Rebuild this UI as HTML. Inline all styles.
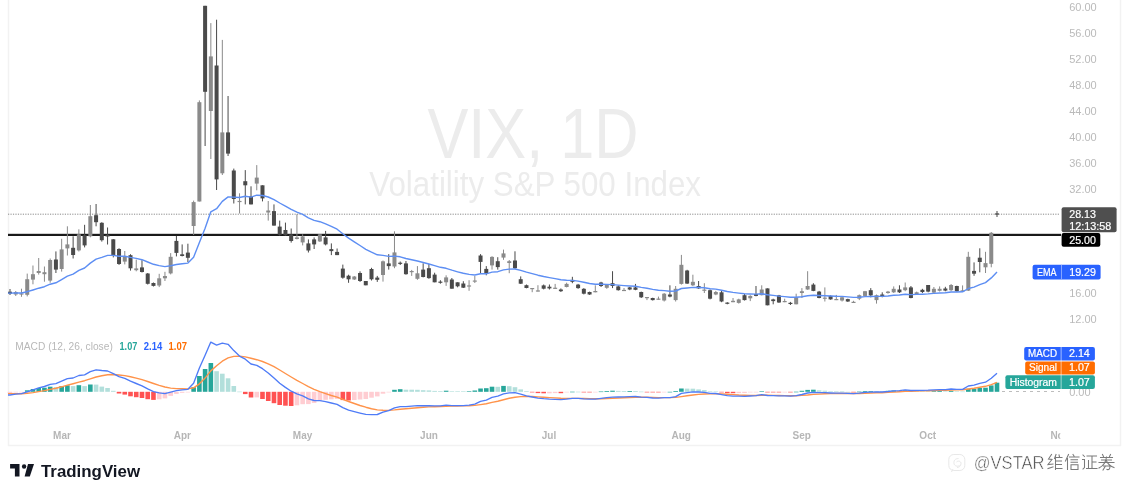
<!DOCTYPE html>
<html><head><meta charset="utf-8"><style>
html,body{margin:0;padding:0;background:#fff;width:1129px;height:496px;overflow:hidden}
svg{display:block;filter:blur(0.35px)}
text{font-family:"Liberation Sans",sans-serif}
.ax{font-size:11px;fill:#bababa}
.mo{font-size:10px;fill:#b6b6b6;font-weight:bold}
.lb{font-size:10.5px;fill:#fff;stroke:#fff;stroke-width:0.2px}
.lb2{font-size:10px;fill:#fff;stroke:#fff;stroke-width:0.2px}
</style></head><body>
<svg width="1129" height="496" viewBox="0 0 1129 496">
<rect width="1129" height="496" fill="#fff"/>
<!-- border -->
<path d="M8.5 0 V445.5 H1120.5 V0" fill="none" stroke="#f2f2f2" stroke-width="1.5"/>
<!-- watermark title -->
<text x="427.5" y="157.5" font-size="70" fill="#ececec" textLength="211" lengthAdjust="spacingAndGlyphs">VIX, 1D</text>
<text x="369.3" y="196" font-size="34.5" fill="#ececec" textLength="331.7" lengthAdjust="spacingAndGlyphs">Volatility S&amp;P 500 Index</text>
<text x="1069.2" y="11.2" class="ax">60.00</text>
<text x="1069.2" y="37.2" class="ax">56.00</text>
<text x="1069.2" y="63.2" class="ax">52.00</text>
<text x="1069.2" y="89.2" class="ax">48.00</text>
<text x="1069.2" y="115.2" class="ax">44.00</text>
<text x="1069.2" y="141.2" class="ax">40.00</text>
<text x="1069.2" y="167.2" class="ax">36.00</text>
<text x="1069.2" y="193.2" class="ax">32.00</text>
<text x="1069.2" y="297.2" class="ax">16.00</text>
<text x="1069.2" y="323.2" class="ax">12.00</text>
<!-- dotted price line -->
<line x1="8" y1="214.2" x2="1060" y2="214.2" stroke="#8a8a8a" stroke-width="1" stroke-dasharray="1.2,1.27"/>
<!-- horizontal 25 line -->
<rect x="8" y="233.8" width="1053" height="2.2" fill="#1a1a1a"/>
<rect x="9.50" y="289.0" width="1" height="6.0" fill="#4a4a4a"/>
<rect x="8.00" y="291.7" width="4" height="2.0" fill="#4a4a4a"/>
<rect x="15.24" y="291.0" width="1" height="5.0" fill="#8a8a8a"/>
<rect x="13.74" y="292.0" width="4" height="2.5" fill="#8a8a8a"/>
<rect x="20.98" y="288.7" width="1" height="8.1" fill="#8a8a8a"/>
<rect x="19.48" y="293.4" width="4" height="1.2" fill="#8a8a8a"/>
<rect x="26.72" y="273.6" width="1" height="22.8" fill="#8a8a8a"/>
<rect x="25.22" y="279.2" width="4" height="15.6" fill="#8a8a8a"/>
<rect x="32.45" y="265.5" width="1" height="18.8" fill="#8a8a8a"/>
<rect x="30.95" y="274.2" width="4" height="5.4" fill="#8a8a8a"/>
<rect x="38.19" y="258.0" width="1" height="16.6" fill="#8a8a8a"/>
<rect x="36.69" y="271.0" width="4" height="2.0" fill="#8a8a8a"/>
<rect x="43.93" y="266.5" width="1" height="15.2" fill="#8a8a8a"/>
<rect x="42.43" y="272.2" width="4" height="2.0" fill="#8a8a8a"/>
<rect x="49.67" y="258.5" width="1" height="24.2" fill="#8a8a8a"/>
<rect x="48.17" y="260.0" width="4" height="20.6" fill="#8a8a8a"/>
<rect x="55.41" y="251.4" width="1" height="21.6" fill="#4a4a4a"/>
<rect x="53.91" y="259.5" width="4" height="10.1" fill="#4a4a4a"/>
<rect x="61.15" y="238.8" width="1" height="32.8" fill="#8a8a8a"/>
<rect x="59.65" y="249.4" width="4" height="19.6" fill="#8a8a8a"/>
<rect x="66.88" y="226.3" width="1" height="29.2" fill="#8a8a8a"/>
<rect x="65.38" y="244.4" width="4" height="4.0" fill="#8a8a8a"/>
<rect x="72.62" y="236.3" width="1" height="22.2" fill="#4a4a4a"/>
<rect x="71.12" y="247.8" width="4" height="7.2" fill="#4a4a4a"/>
<rect x="78.36" y="229.3" width="1" height="22.2" fill="#8a8a8a"/>
<rect x="76.86" y="234.3" width="4" height="16.1" fill="#8a8a8a"/>
<rect x="84.10" y="224.8" width="1" height="22.6" fill="#4a4a4a"/>
<rect x="82.60" y="235.3" width="4" height="10.1" fill="#4a4a4a"/>
<rect x="89.84" y="205.0" width="1" height="32.3" fill="#8a8a8a"/>
<rect x="88.34" y="216.2" width="4" height="20.1" fill="#8a8a8a"/>
<rect x="95.58" y="204.0" width="1" height="22.3" fill="#4a4a4a"/>
<rect x="94.08" y="215.2" width="4" height="7.0" fill="#4a4a4a"/>
<rect x="101.31" y="222.2" width="1" height="19.4" fill="#4a4a4a"/>
<rect x="99.81" y="222.8" width="4" height="17.4" fill="#4a4a4a"/>
<rect x="107.05" y="227.5" width="1" height="17.0" fill="#4a4a4a"/>
<rect x="105.55" y="234.8" width="4" height="1.7" fill="#4a4a4a"/>
<rect x="112.79" y="239.0" width="1" height="18.4" fill="#4a4a4a"/>
<rect x="111.29" y="239.3" width="4" height="16.4" fill="#4a4a4a"/>
<rect x="118.53" y="248.2" width="1" height="16.7" fill="#4a4a4a"/>
<rect x="117.03" y="249.0" width="4" height="15.0" fill="#4a4a4a"/>
<rect x="124.27" y="251.0" width="1" height="13.4" fill="#8a8a8a"/>
<rect x="122.77" y="256.0" width="4" height="5.6" fill="#8a8a8a"/>
<rect x="130.01" y="254.2" width="1" height="16.4" fill="#4a4a4a"/>
<rect x="128.51" y="255.2" width="4" height="13.1" fill="#4a4a4a"/>
<rect x="135.74" y="259.6" width="1" height="11.7" fill="#8a8a8a"/>
<rect x="134.24" y="268.4" width="4" height="1.8" fill="#8a8a8a"/>
<rect x="141.48" y="260.2" width="1" height="12.3" fill="#4a4a4a"/>
<rect x="139.98" y="267.4" width="4" height="4.6" fill="#4a4a4a"/>
<rect x="147.22" y="273.0" width="1" height="11.5" fill="#4a4a4a"/>
<rect x="145.72" y="273.5" width="4" height="10.3" fill="#4a4a4a"/>
<rect x="152.96" y="282.5" width="1" height="4.0" fill="#4a4a4a"/>
<rect x="151.46" y="283.0" width="4" height="2.9" fill="#4a4a4a"/>
<rect x="158.70" y="273.8" width="1" height="13.3" fill="#8a8a8a"/>
<rect x="157.20" y="278.3" width="4" height="7.2" fill="#8a8a8a"/>
<rect x="164.44" y="271.8" width="1" height="9.2" fill="#8a8a8a"/>
<rect x="162.94" y="276.0" width="4" height="2.3" fill="#8a8a8a"/>
<rect x="170.17" y="253.1" width="1" height="21.3" fill="#8a8a8a"/>
<rect x="168.67" y="256.8" width="4" height="16.6" fill="#8a8a8a"/>
<rect x="175.91" y="235.9" width="1" height="20.5" fill="#4a4a4a"/>
<rect x="174.41" y="240.9" width="4" height="12.0" fill="#4a4a4a"/>
<rect x="181.65" y="244.4" width="1" height="12.0" fill="#4a4a4a"/>
<rect x="180.15" y="254.3" width="4" height="1.7" fill="#4a4a4a"/>
<rect x="187.39" y="243.7" width="1" height="18.3" fill="#4a4a4a"/>
<rect x="185.89" y="252.6" width="4" height="5.2" fill="#4a4a4a"/>
<rect x="193.13" y="200.6" width="1" height="34.4" fill="#8a8a8a"/>
<rect x="191.63" y="202.1" width="4" height="23.9" fill="#8a8a8a"/>
<rect x="198.87" y="100.4" width="1" height="101.1" fill="#8a8a8a"/>
<rect x="197.37" y="102.2" width="4" height="99.3" fill="#8a8a8a"/>
<rect x="204.60" y="5.8" width="1" height="140.2" fill="#4a4a4a"/>
<rect x="203.10" y="5.8" width="4" height="86.0" fill="#4a4a4a"/>
<rect x="210.34" y="23.1" width="1" height="135.9" fill="#8a8a8a"/>
<rect x="208.84" y="56.4" width="4" height="54.6" fill="#8a8a8a"/>
<rect x="216.08" y="19.7" width="1" height="170.3" fill="#4a4a4a"/>
<rect x="214.58" y="65.5" width="4" height="113.9" fill="#4a4a4a"/>
<rect x="221.82" y="39.9" width="1" height="135.1" fill="#8a8a8a"/>
<rect x="220.32" y="132.4" width="4" height="40.9" fill="#8a8a8a"/>
<rect x="227.56" y="96.0" width="1" height="60.0" fill="#4a4a4a"/>
<rect x="226.06" y="132.4" width="4" height="21.2" fill="#4a4a4a"/>
<rect x="233.30" y="168.6" width="1" height="34.9" fill="#4a4a4a"/>
<rect x="231.80" y="170.5" width="4" height="28.5" fill="#4a4a4a"/>
<rect x="239.03" y="193.3" width="1" height="20.2" fill="#8a8a8a"/>
<rect x="237.53" y="200.9" width="4" height="1.2" fill="#8a8a8a"/>
<rect x="244.77" y="170.1" width="1" height="34.3" fill="#4a4a4a"/>
<rect x="243.27" y="181.2" width="4" height="4.1" fill="#4a4a4a"/>
<rect x="250.51" y="186.3" width="1" height="18.1" fill="#4a4a4a"/>
<rect x="249.01" y="196.4" width="4" height="8.0" fill="#4a4a4a"/>
<rect x="256.25" y="165.1" width="1" height="25.2" fill="#8a8a8a"/>
<rect x="254.75" y="177.6" width="4" height="6.0" fill="#8a8a8a"/>
<rect x="261.99" y="185.3" width="1" height="16.1" fill="#4a4a4a"/>
<rect x="260.49" y="185.3" width="4" height="13.1" fill="#4a4a4a"/>
<rect x="267.73" y="201.0" width="1" height="19.6" fill="#8a8a8a"/>
<rect x="266.23" y="210.5" width="4" height="2.0" fill="#8a8a8a"/>
<rect x="273.47" y="204.4" width="1" height="21.2" fill="#4a4a4a"/>
<rect x="271.97" y="211.1" width="4" height="14.5" fill="#4a4a4a"/>
<rect x="279.20" y="220.6" width="1" height="15.1" fill="#4a4a4a"/>
<rect x="277.70" y="226.6" width="4" height="8.1" fill="#4a4a4a"/>
<rect x="284.94" y="222.6" width="1" height="13.1" fill="#4a4a4a"/>
<rect x="283.44" y="230.0" width="4" height="5.3" fill="#4a4a4a"/>
<rect x="290.68" y="228.5" width="1" height="14.1" fill="#4a4a4a"/>
<rect x="289.18" y="234.5" width="4" height="6.5" fill="#4a4a4a"/>
<rect x="296.42" y="214.2" width="1" height="25.2" fill="#8a8a8a"/>
<rect x="294.92" y="237.4" width="4" height="1.6" fill="#8a8a8a"/>
<rect x="302.16" y="234.3" width="1" height="11.1" fill="#8a8a8a"/>
<rect x="300.66" y="236.4" width="4" height="6.0" fill="#8a8a8a"/>
<rect x="307.90" y="239.4" width="1" height="13.1" fill="#4a4a4a"/>
<rect x="306.40" y="243.4" width="4" height="7.1" fill="#4a4a4a"/>
<rect x="313.63" y="237.4" width="1" height="11.6" fill="#4a4a4a"/>
<rect x="312.13" y="239.4" width="4" height="5.0" fill="#4a4a4a"/>
<rect x="319.37" y="234.3" width="1" height="7.7" fill="#8a8a8a"/>
<rect x="317.87" y="234.3" width="4" height="7.1" fill="#8a8a8a"/>
<rect x="325.11" y="230.9" width="1" height="14.5" fill="#4a4a4a"/>
<rect x="323.61" y="237.4" width="4" height="7.0" fill="#4a4a4a"/>
<rect x="330.85" y="243.4" width="1" height="11.7" fill="#4a4a4a"/>
<rect x="329.35" y="249.1" width="4" height="2.0" fill="#4a4a4a"/>
<rect x="336.59" y="248.5" width="1" height="6.6" fill="#4a4a4a"/>
<rect x="335.09" y="251.9" width="4" height="3.2" fill="#4a4a4a"/>
<rect x="342.33" y="264.6" width="1" height="14.1" fill="#4a4a4a"/>
<rect x="340.83" y="268.6" width="4" height="9.1" fill="#4a4a4a"/>
<rect x="348.06" y="274.7" width="1" height="8.1" fill="#4a4a4a"/>
<rect x="346.56" y="275.7" width="4" height="3.6" fill="#4a4a4a"/>
<rect x="353.80" y="276.0" width="1" height="4.0" fill="#8a8a8a"/>
<rect x="352.30" y="276.5" width="4" height="3.0" fill="#8a8a8a"/>
<rect x="359.54" y="271.3" width="1" height="10.6" fill="#4a4a4a"/>
<rect x="358.04" y="273.0" width="4" height="8.0" fill="#4a4a4a"/>
<rect x="365.28" y="281.0" width="1" height="4.3" fill="#4a4a4a"/>
<rect x="363.78" y="281.0" width="4" height="4.3" fill="#4a4a4a"/>
<rect x="371.02" y="267.8" width="1" height="12.7" fill="#4a4a4a"/>
<rect x="369.52" y="269.0" width="4" height="10.3" fill="#4a4a4a"/>
<rect x="376.76" y="275.9" width="1" height="6.0" fill="#4a4a4a"/>
<rect x="375.26" y="277.6" width="4" height="2.2" fill="#4a4a4a"/>
<rect x="382.49" y="260.5" width="1" height="21.1" fill="#8a8a8a"/>
<rect x="380.99" y="261.3" width="4" height="13.7" fill="#8a8a8a"/>
<rect x="388.23" y="254.1" width="1" height="15.5" fill="#4a4a4a"/>
<rect x="386.73" y="263.4" width="4" height="2.7" fill="#4a4a4a"/>
<rect x="393.97" y="231.3" width="1" height="36.9" fill="#8a8a8a"/>
<rect x="392.47" y="252.4" width="4" height="14.1" fill="#8a8a8a"/>
<rect x="399.71" y="261.5" width="1" height="3.5" fill="#4a4a4a"/>
<rect x="398.21" y="262.7" width="4" height="1.2" fill="#4a4a4a"/>
<rect x="405.45" y="261.0" width="1" height="13.7" fill="#4a4a4a"/>
<rect x="403.95" y="263.4" width="4" height="10.8" fill="#4a4a4a"/>
<rect x="411.19" y="269.9" width="1" height="6.0" fill="#8a8a8a"/>
<rect x="409.69" y="271.0" width="4" height="1.2" fill="#8a8a8a"/>
<rect x="416.92" y="266.1" width="1" height="13.7" fill="#8a8a8a"/>
<rect x="415.42" y="273.3" width="4" height="5.5" fill="#8a8a8a"/>
<rect x="422.66" y="263.3" width="1" height="14.1" fill="#4a4a4a"/>
<rect x="421.16" y="269.6" width="4" height="7.4" fill="#4a4a4a"/>
<rect x="428.40" y="264.0" width="1" height="14.8" fill="#4a4a4a"/>
<rect x="426.90" y="268.2" width="4" height="9.9" fill="#4a4a4a"/>
<rect x="434.14" y="272.7" width="1" height="9.6" fill="#4a4a4a"/>
<rect x="432.64" y="274.6" width="4" height="7.7" fill="#4a4a4a"/>
<rect x="439.88" y="280.2" width="1" height="3.5" fill="#4a4a4a"/>
<rect x="438.38" y="281.6" width="4" height="1.2" fill="#4a4a4a"/>
<rect x="445.62" y="275.3" width="1" height="10.6" fill="#8a8a8a"/>
<rect x="444.12" y="277.4" width="4" height="4.9" fill="#8a8a8a"/>
<rect x="451.35" y="278.0" width="1" height="10.7" fill="#4a4a4a"/>
<rect x="449.85" y="279.5" width="4" height="9.2" fill="#4a4a4a"/>
<rect x="457.09" y="282.3" width="1" height="5.0" fill="#4a4a4a"/>
<rect x="455.59" y="282.3" width="4" height="4.0" fill="#4a4a4a"/>
<rect x="462.83" y="281.2" width="1" height="6.8" fill="#4a4a4a"/>
<rect x="461.33" y="283.5" width="4" height="4.2" fill="#4a4a4a"/>
<rect x="468.57" y="280.2" width="1" height="10.6" fill="#8a8a8a"/>
<rect x="467.07" y="285.4" width="4" height="1.2" fill="#8a8a8a"/>
<rect x="474.31" y="276.0" width="1" height="7.0" fill="#8a8a8a"/>
<rect x="472.81" y="280.5" width="4" height="1.2" fill="#8a8a8a"/>
<rect x="480.05" y="254.1" width="1" height="19.8" fill="#4a4a4a"/>
<rect x="478.55" y="255.5" width="4" height="6.4" fill="#4a4a4a"/>
<rect x="485.78" y="266.1" width="1" height="9.2" fill="#4a4a4a"/>
<rect x="484.28" y="268.9" width="4" height="4.6" fill="#4a4a4a"/>
<rect x="491.52" y="256.2" width="1" height="13.4" fill="#8a8a8a"/>
<rect x="490.02" y="256.9" width="4" height="8.5" fill="#8a8a8a"/>
<rect x="497.26" y="257.2" width="1" height="12.4" fill="#4a4a4a"/>
<rect x="495.76" y="261.2" width="4" height="5.9" fill="#4a4a4a"/>
<rect x="503.00" y="249.6" width="1" height="10.2" fill="#8a8a8a"/>
<rect x="501.50" y="253.4" width="4" height="4.2" fill="#8a8a8a"/>
<rect x="508.74" y="260.0" width="1" height="13.2" fill="#8a8a8a"/>
<rect x="507.24" y="261.2" width="4" height="1.8" fill="#8a8a8a"/>
<rect x="514.48" y="251.3" width="1" height="17.6" fill="#4a4a4a"/>
<rect x="512.98" y="260.5" width="4" height="7.7" fill="#4a4a4a"/>
<rect x="520.22" y="276.4" width="1" height="7.6" fill="#4a4a4a"/>
<rect x="518.72" y="279.2" width="4" height="4.5" fill="#4a4a4a"/>
<rect x="525.95" y="284.5" width="1" height="3.8" fill="#4a4a4a"/>
<rect x="524.45" y="285.2" width="4" height="2.8" fill="#4a4a4a"/>
<rect x="531.69" y="288.2" width="1" height="4.0" fill="#8a8a8a"/>
<rect x="530.19" y="288.0" width="4" height="1.2" fill="#8a8a8a"/>
<rect x="537.43" y="285.2" width="1" height="6.3" fill="#8a8a8a"/>
<rect x="535.93" y="290.4" width="4" height="1.2" fill="#8a8a8a"/>
<rect x="543.17" y="284.5" width="1" height="4.9" fill="#4a4a4a"/>
<rect x="541.67" y="285.4" width="4" height="3.3" fill="#4a4a4a"/>
<rect x="548.91" y="284.5" width="1" height="5.0" fill="#4a4a4a"/>
<rect x="547.41" y="286.7" width="4" height="1.7" fill="#4a4a4a"/>
<rect x="554.65" y="283.9" width="1" height="4.9" fill="#8a8a8a"/>
<rect x="553.15" y="287.7" width="4" height="1.2" fill="#8a8a8a"/>
<rect x="560.38" y="288.4" width="1" height="3.6" fill="#4a4a4a"/>
<rect x="558.88" y="289.5" width="4" height="1.7" fill="#4a4a4a"/>
<rect x="566.12" y="282.7" width="1" height="4.7" fill="#8a8a8a"/>
<rect x="564.62" y="283.9" width="4" height="3.1" fill="#8a8a8a"/>
<rect x="571.86" y="276.8" width="1" height="6.4" fill="#4a4a4a"/>
<rect x="570.36" y="279.9" width="4" height="1.9" fill="#4a4a4a"/>
<rect x="577.60" y="283.9" width="1" height="4.9" fill="#4a4a4a"/>
<rect x="576.10" y="284.6" width="4" height="3.5" fill="#4a4a4a"/>
<rect x="583.34" y="288.1" width="1" height="6.3" fill="#4a4a4a"/>
<rect x="581.84" y="288.8" width="4" height="4.9" fill="#4a4a4a"/>
<rect x="589.08" y="291.6" width="1" height="3.3" fill="#4a4a4a"/>
<rect x="587.58" y="292.0" width="4" height="2.5" fill="#4a4a4a"/>
<rect x="594.81" y="285.3" width="1" height="7.0" fill="#8a8a8a"/>
<rect x="593.31" y="291.0" width="4" height="1.3" fill="#8a8a8a"/>
<rect x="600.55" y="281.8" width="1" height="5.2" fill="#4a4a4a"/>
<rect x="599.05" y="282.5" width="4" height="3.5" fill="#4a4a4a"/>
<rect x="606.29" y="284.6" width="1" height="4.2" fill="#8a8a8a"/>
<rect x="604.79" y="285.0" width="4" height="2.8" fill="#8a8a8a"/>
<rect x="612.03" y="271.2" width="1" height="16.9" fill="#4a4a4a"/>
<rect x="610.53" y="283.2" width="4" height="2.8" fill="#4a4a4a"/>
<rect x="617.77" y="285.3" width="1" height="5.3" fill="#4a4a4a"/>
<rect x="616.27" y="286.4" width="4" height="3.8" fill="#4a4a4a"/>
<rect x="623.51" y="288.0" width="1" height="2.9" fill="#8a8a8a"/>
<rect x="622.01" y="289.9" width="4" height="1.2" fill="#8a8a8a"/>
<rect x="629.24" y="287.0" width="1" height="3.2" fill="#4a4a4a"/>
<rect x="627.74" y="287.4" width="4" height="2.1" fill="#4a4a4a"/>
<rect x="634.98" y="283.9" width="1" height="6.3" fill="#4a4a4a"/>
<rect x="633.48" y="287.4" width="4" height="2.4" fill="#4a4a4a"/>
<rect x="640.72" y="291.6" width="1" height="6.4" fill="#4a4a4a"/>
<rect x="639.22" y="292.0" width="4" height="5.3" fill="#4a4a4a"/>
<rect x="646.46" y="297.3" width="1" height="2.8" fill="#8a8a8a"/>
<rect x="644.96" y="297.0" width="4" height="1.2" fill="#8a8a8a"/>
<rect x="652.20" y="297.7" width="1" height="2.8" fill="#4a4a4a"/>
<rect x="650.70" y="298.0" width="4" height="2.1" fill="#4a4a4a"/>
<rect x="657.94" y="296.6" width="1" height="3.1" fill="#8a8a8a"/>
<rect x="656.44" y="298.6" width="4" height="1.2" fill="#8a8a8a"/>
<rect x="663.67" y="293.0" width="1" height="8.5" fill="#8a8a8a"/>
<rect x="662.17" y="293.7" width="4" height="6.8" fill="#8a8a8a"/>
<rect x="669.41" y="285.3" width="1" height="12.0" fill="#4a4a4a"/>
<rect x="667.91" y="294.5" width="4" height="2.1" fill="#4a4a4a"/>
<rect x="675.15" y="286.0" width="1" height="15.5" fill="#8a8a8a"/>
<rect x="673.65" y="288.8" width="4" height="11.3" fill="#8a8a8a"/>
<rect x="680.89" y="254.9" width="1" height="29.7" fill="#8a8a8a"/>
<rect x="679.39" y="264.8" width="4" height="19.1" fill="#8a8a8a"/>
<rect x="686.63" y="269.8" width="1" height="14.1" fill="#4a4a4a"/>
<rect x="685.13" y="270.5" width="4" height="13.1" fill="#4a4a4a"/>
<rect x="692.37" y="274.7" width="1" height="11.3" fill="#8a8a8a"/>
<rect x="690.87" y="281.8" width="4" height="3.5" fill="#8a8a8a"/>
<rect x="698.10" y="281.0" width="1" height="7.8" fill="#4a4a4a"/>
<rect x="696.60" y="286.0" width="4" height="2.4" fill="#4a4a4a"/>
<rect x="703.84" y="283.2" width="1" height="9.8" fill="#8a8a8a"/>
<rect x="702.34" y="289.6" width="4" height="1.2" fill="#8a8a8a"/>
<rect x="709.58" y="289.5" width="1" height="9.9" fill="#4a4a4a"/>
<rect x="708.08" y="290.2" width="4" height="8.5" fill="#4a4a4a"/>
<rect x="715.32" y="290.9" width="1" height="4.3" fill="#8a8a8a"/>
<rect x="713.82" y="292.0" width="4" height="2.5" fill="#8a8a8a"/>
<rect x="721.06" y="290.2" width="1" height="12.0" fill="#4a4a4a"/>
<rect x="719.56" y="292.3" width="4" height="9.2" fill="#4a4a4a"/>
<rect x="726.80" y="302.2" width="1" height="2.1" fill="#4a4a4a"/>
<rect x="725.30" y="302.6" width="4" height="1.2" fill="#4a4a4a"/>
<rect x="732.53" y="298.0" width="1" height="4.2" fill="#8a8a8a"/>
<rect x="731.03" y="300.8" width="4" height="1.4" fill="#8a8a8a"/>
<rect x="738.27" y="298.7" width="1" height="4.9" fill="#8a8a8a"/>
<rect x="736.77" y="299.4" width="4" height="3.5" fill="#8a8a8a"/>
<rect x="744.01" y="294.0" width="1" height="6.5" fill="#4a4a4a"/>
<rect x="742.51" y="295.2" width="4" height="4.9" fill="#4a4a4a"/>
<rect x="749.75" y="295.2" width="1" height="5.9" fill="#8a8a8a"/>
<rect x="748.25" y="295.9" width="4" height="2.4" fill="#8a8a8a"/>
<rect x="755.49" y="286.0" width="1" height="10.3" fill="#4a4a4a"/>
<rect x="753.99" y="294.0" width="4" height="1.9" fill="#4a4a4a"/>
<rect x="761.23" y="285.3" width="1" height="10.1" fill="#8a8a8a"/>
<rect x="759.73" y="289.5" width="4" height="5.7" fill="#8a8a8a"/>
<rect x="766.97" y="288.4" width="1" height="16.9" fill="#4a4a4a"/>
<rect x="765.47" y="288.4" width="4" height="16.9" fill="#4a4a4a"/>
<rect x="772.70" y="298.7" width="1" height="5.6" fill="#4a4a4a"/>
<rect x="771.20" y="299.4" width="4" height="1.7" fill="#4a4a4a"/>
<rect x="778.44" y="294.9" width="1" height="8.0" fill="#4a4a4a"/>
<rect x="776.94" y="295.4" width="4" height="7.1" fill="#4a4a4a"/>
<rect x="784.18" y="298.7" width="1" height="3.5" fill="#8a8a8a"/>
<rect x="782.68" y="301.0" width="4" height="1.2" fill="#8a8a8a"/>
<rect x="789.92" y="301.9" width="1" height="3.1" fill="#4a4a4a"/>
<rect x="788.42" y="302.8" width="4" height="1.2" fill="#4a4a4a"/>
<rect x="795.66" y="293.7" width="1" height="10.6" fill="#8a8a8a"/>
<rect x="794.16" y="297.3" width="4" height="7.0" fill="#8a8a8a"/>
<rect x="801.40" y="288.1" width="1" height="9.9" fill="#8a8a8a"/>
<rect x="799.90" y="291.2" width="4" height="1.8" fill="#8a8a8a"/>
<rect x="807.13" y="271.2" width="1" height="18.6" fill="#8a8a8a"/>
<rect x="805.63" y="286.0" width="4" height="3.5" fill="#8a8a8a"/>
<rect x="812.87" y="283.2" width="1" height="8.0" fill="#4a4a4a"/>
<rect x="811.37" y="284.6" width="4" height="6.3" fill="#4a4a4a"/>
<rect x="818.61" y="290.9" width="1" height="7.4" fill="#4a4a4a"/>
<rect x="817.11" y="291.6" width="4" height="6.4" fill="#4a4a4a"/>
<rect x="824.35" y="287.4" width="1" height="14.1" fill="#8a8a8a"/>
<rect x="822.85" y="297.6" width="4" height="1.2" fill="#8a8a8a"/>
<rect x="830.09" y="295.4" width="1" height="4.3" fill="#4a4a4a"/>
<rect x="828.59" y="295.9" width="4" height="3.5" fill="#4a4a4a"/>
<rect x="835.83" y="294.9" width="1" height="5.2" fill="#8a8a8a"/>
<rect x="834.33" y="299.0" width="4" height="1.2" fill="#8a8a8a"/>
<rect x="841.56" y="296.3" width="1" height="5.2" fill="#8a8a8a"/>
<rect x="840.06" y="297.3" width="4" height="3.2" fill="#8a8a8a"/>
<rect x="847.30" y="298.7" width="1" height="3.2" fill="#4a4a4a"/>
<rect x="845.80" y="299.1" width="4" height="2.4" fill="#4a4a4a"/>
<rect x="853.04" y="300.8" width="1" height="2.1" fill="#8a8a8a"/>
<rect x="851.54" y="301.8" width="4" height="1.2" fill="#8a8a8a"/>
<rect x="858.78" y="294.5" width="1" height="5.6" fill="#8a8a8a"/>
<rect x="857.28" y="295.2" width="4" height="3.5" fill="#8a8a8a"/>
<rect x="864.52" y="290.9" width="1" height="5.4" fill="#8a8a8a"/>
<rect x="863.02" y="291.2" width="4" height="4.7" fill="#8a8a8a"/>
<rect x="870.26" y="288.1" width="1" height="9.2" fill="#4a4a4a"/>
<rect x="868.76" y="290.2" width="4" height="5.2" fill="#4a4a4a"/>
<rect x="875.99" y="294.5" width="1" height="9.1" fill="#8a8a8a"/>
<rect x="874.49" y="295.2" width="4" height="4.9" fill="#8a8a8a"/>
<rect x="881.73" y="292.3" width="1" height="5.0" fill="#4a4a4a"/>
<rect x="880.23" y="294.5" width="4" height="2.4" fill="#4a4a4a"/>
<rect x="887.47" y="290.9" width="1" height="2.8" fill="#8a8a8a"/>
<rect x="885.97" y="291.6" width="4" height="1.4" fill="#8a8a8a"/>
<rect x="893.21" y="286.4" width="1" height="6.6" fill="#8a8a8a"/>
<rect x="891.71" y="288.8" width="4" height="3.5" fill="#8a8a8a"/>
<rect x="898.95" y="285.3" width="1" height="7.7" fill="#4a4a4a"/>
<rect x="897.45" y="289.5" width="4" height="2.8" fill="#4a4a4a"/>
<rect x="904.69" y="282.5" width="1" height="8.7" fill="#8a8a8a"/>
<rect x="903.19" y="287.4" width="4" height="2.8" fill="#8a8a8a"/>
<rect x="910.42" y="286.0" width="1" height="12.3" fill="#4a4a4a"/>
<rect x="908.92" y="287.4" width="4" height="10.6" fill="#4a4a4a"/>
<rect x="916.16" y="291.6" width="1" height="2.9" fill="#8a8a8a"/>
<rect x="914.66" y="292.3" width="4" height="2.2" fill="#8a8a8a"/>
<rect x="921.90" y="288.8" width="1" height="4.2" fill="#4a4a4a"/>
<rect x="920.40" y="289.8" width="4" height="2.2" fill="#4a4a4a"/>
<rect x="927.64" y="285.0" width="1" height="7.3" fill="#4a4a4a"/>
<rect x="926.14" y="285.0" width="4" height="6.6" fill="#4a4a4a"/>
<rect x="933.38" y="287.0" width="1" height="6.0" fill="#8a8a8a"/>
<rect x="931.88" y="288.8" width="4" height="3.8" fill="#8a8a8a"/>
<rect x="939.12" y="286.4" width="1" height="5.1" fill="#8a8a8a"/>
<rect x="937.62" y="288.8" width="4" height="2.0" fill="#8a8a8a"/>
<rect x="944.85" y="286.8" width="1" height="4.5" fill="#4a4a4a"/>
<rect x="943.35" y="288.5" width="4" height="2.1" fill="#4a4a4a"/>
<rect x="950.59" y="284.0" width="1" height="7.3" fill="#8a8a8a"/>
<rect x="949.09" y="285.0" width="4" height="5.2" fill="#8a8a8a"/>
<rect x="956.33" y="285.7" width="1" height="5.9" fill="#4a4a4a"/>
<rect x="954.83" y="286.0" width="4" height="5.3" fill="#4a4a4a"/>
<rect x="962.07" y="285.4" width="1" height="5.9" fill="#8a8a8a"/>
<rect x="960.57" y="290.3" width="4" height="1.2" fill="#8a8a8a"/>
<rect x="967.81" y="251.8" width="1" height="39.2" fill="#8a8a8a"/>
<rect x="966.31" y="256.8" width="4" height="33.8" fill="#8a8a8a"/>
<rect x="973.55" y="262.4" width="1" height="13.4" fill="#4a4a4a"/>
<rect x="972.05" y="270.9" width="4" height="2.8" fill="#4a4a4a"/>
<rect x="979.28" y="248.3" width="1" height="24.0" fill="#4a4a4a"/>
<rect x="977.78" y="257.7" width="4" height="4.3" fill="#4a4a4a"/>
<rect x="985.02" y="251.8" width="1" height="21.2" fill="#8a8a8a"/>
<rect x="983.52" y="263.1" width="4" height="4.2" fill="#8a8a8a"/>
<rect x="990.76" y="232.0" width="1" height="35.3" fill="#8a8a8a"/>
<rect x="989.26" y="232.8" width="4" height="31.0" fill="#8a8a8a"/>
<rect x="996.50" y="211.0" width="1" height="6.0" fill="#4a4a4a"/>
<rect x="995.00" y="213.4" width="4" height="1.2" fill="#4a4a4a"/>
<polyline points="8,293.1 10.0,293.1 15.7,293.0 21.5,293.0 27.2,291.7 33.0,290.0 38.7,288.2 44.4,286.7 50.2,284.2 55.9,282.8 61.6,279.6 67.4,276.2 73.1,274.2 78.9,270.4 84.6,268.0 90.3,263.1 96.1,259.2 101.8,257.4 107.6,255.4 113.3,255.4 119.0,256.2 124.8,256.2 130.5,257.4 136.2,258.4 142.0,259.7 147.7,262.0 153.5,264.3 159.2,265.6 164.9,266.6 170.7,265.7 176.4,264.5 182.2,263.7 187.9,263.1 193.6,257.3 199.4,242.5 205.1,228.2 210.8,211.8 216.6,208.7 222.3,201.4 228.1,196.9 233.8,197.1 239.5,197.5 245.3,196.3 251.0,197.1 256.8,195.2 262.5,195.5 268.2,197.0 274.0,199.7 279.7,203.0 285.4,206.1 291.2,209.4 296.9,212.1 302.7,214.4 308.4,217.8 314.1,220.4 319.9,221.7 325.6,223.9 331.3,226.4 337.1,229.2 342.8,233.8 348.6,238.1 354.3,241.8 360.0,245.5 365.8,249.3 371.5,252.2 377.3,254.8 383.0,255.4 388.7,256.4 394.5,256.1 400.2,256.8 405.9,258.5 411.7,259.7 417.4,261.0 423.2,262.5 428.9,264.0 434.6,265.7 440.4,267.3 446.1,268.3 451.9,270.2 457.6,271.8 463.3,273.3 469.1,274.4 474.8,275.0 480.5,273.8 486.3,273.8 492.0,272.1 497.8,271.7 503.5,269.9 509.2,269.1 515.0,269.0 520.7,270.4 526.5,272.1 532.2,273.6 537.9,275.2 543.7,276.5 549.4,277.6 555.1,278.6 560.9,279.8 566.6,280.2 572.4,280.4 578.1,281.1 583.8,282.3 589.6,283.5 595.3,284.2 601.1,284.3 606.8,284.4 612.5,284.6 618.3,285.1 624.0,285.6 629.7,286.0 635.5,286.3 641.2,287.4 647.0,288.3 652.7,289.4 658.4,290.3 664.2,290.6 669.9,291.2 675.7,291.0 681.4,288.5 687.1,288.0 692.9,287.4 698.6,287.5 704.3,287.7 710.1,288.8 715.8,289.1 721.6,290.3 727.3,291.5 733.0,292.4 738.8,293.1 744.5,293.8 750.2,294.0 756.0,294.1 761.7,293.7 767.5,294.8 773.2,295.4 778.9,296.1 784.7,296.6 790.4,297.3 796.2,297.3 801.9,296.7 807.6,295.7 813.4,295.2 819.1,295.5 824.8,295.7 830.6,296.0 836.3,296.3 842.1,296.4 847.8,296.9 853.5,297.4 859.3,297.2 865.0,296.6 870.8,296.5 876.5,296.4 882.2,296.4 888.0,296.0 893.7,295.3 899.4,295.0 905.2,294.3 910.9,294.6 916.7,294.4 922.4,294.2 928.1,293.9 933.9,293.4 939.6,293.0 945.4,292.8 951.1,292.0 956.8,292.0 962.6,291.8 968.3,288.5 974.0,287.1 979.8,284.7 985.5,282.6 991.3,277.9 997.0,271.9" fill="none" stroke="#5d8ef3" stroke-width="1.4" stroke-linejoin="round"/>
<!-- price labels -->
<rect x="1061.6" y="207.3" width="55" height="25" rx="2" fill="#4f4f4f"/>
<text x="1069.2" y="218.3" class="lb" textLength="26.8" lengthAdjust="spacingAndGlyphs">28.13</text>
<text x="1069.2" y="230" class="lb" textLength="42.2" lengthAdjust="spacingAndGlyphs">12:13:58</text>
<rect x="1061.6" y="233" width="38.7" height="13.8" rx="2" fill="#000"/>
<text x="1069.2" y="243.7" class="lb" textLength="26.8" lengthAdjust="spacingAndGlyphs">25.00</text>
<rect x="1032.6" y="264.8" width="68" height="14.6" rx="2" fill="#2962ff"/>
<rect x="1061.1" y="264.8" width="0.8" height="14.6" fill="#9db5ff"/>
<text x="1036.9" y="276" class="lb" textLength="19.6" lengthAdjust="spacingAndGlyphs">EMA</text>
<text x="1069.2" y="276" class="lb" textLength="26.8" lengthAdjust="spacingAndGlyphs">19.29</text>
<!-- MACD pane -->
<rect x="7.70" y="391.8" width="4.6" height="1.4" fill="#ffcdd2"/>
<rect x="13.44" y="391.8" width="4.6" height="0.6" fill="#ffcdd2"/>
<rect x="19.18" y="391.8" width="4.6" height="0.6" fill="#ffcdd2"/>
<rect x="24.92" y="390.3" width="4.6" height="1.5" fill="#26a69a"/>
<rect x="30.65" y="389.0" width="4.6" height="2.8" fill="#26a69a"/>
<rect x="36.39" y="388.0" width="4.6" height="3.8" fill="#26a69a"/>
<rect x="42.13" y="387.7" width="4.6" height="4.1" fill="#26a69a"/>
<rect x="47.87" y="386.7" width="4.6" height="5.1" fill="#26a69a"/>
<rect x="53.61" y="387.2" width="4.6" height="4.6" fill="#b2dfdb"/>
<rect x="59.35" y="386.1" width="4.6" height="5.7" fill="#26a69a"/>
<rect x="65.08" y="385.3" width="4.6" height="6.5" fill="#26a69a"/>
<rect x="70.82" y="386.1" width="4.6" height="5.7" fill="#b2dfdb"/>
<rect x="76.56" y="385.2" width="4.6" height="6.6" fill="#26a69a"/>
<rect x="82.30" y="386.1" width="4.6" height="5.7" fill="#b2dfdb"/>
<rect x="88.04" y="384.5" width="4.6" height="7.3" fill="#26a69a"/>
<rect x="93.78" y="384.6" width="4.6" height="7.2" fill="#b2dfdb"/>
<rect x="99.51" y="386.6" width="4.6" height="5.2" fill="#b2dfdb"/>
<rect x="105.25" y="388.0" width="4.6" height="3.8" fill="#b2dfdb"/>
<rect x="110.99" y="390.8" width="4.6" height="1.0" fill="#b2dfdb"/>
<rect x="116.73" y="391.8" width="4.6" height="1.7" fill="#ff5252"/>
<rect x="122.47" y="391.8" width="4.6" height="2.8" fill="#ff5252"/>
<rect x="128.21" y="391.8" width="4.6" height="4.5" fill="#ff5252"/>
<rect x="133.94" y="391.8" width="4.6" height="5.4" fill="#ff5252"/>
<rect x="139.68" y="391.8" width="4.6" height="6.2" fill="#ff5252"/>
<rect x="145.42" y="391.8" width="4.6" height="7.4" fill="#ff5252"/>
<rect x="151.16" y="391.8" width="4.6" height="8.1" fill="#ff5252"/>
<rect x="156.90" y="391.8" width="4.6" height="7.5" fill="#ffcdd2"/>
<rect x="162.64" y="391.8" width="4.6" height="6.6" fill="#ffcdd2"/>
<rect x="168.37" y="391.8" width="4.6" height="4.1" fill="#ffcdd2"/>
<rect x="174.11" y="391.8" width="4.6" height="2.1" fill="#ffcdd2"/>
<rect x="179.85" y="391.8" width="4.6" height="1.0" fill="#ffcdd2"/>
<rect x="185.59" y="391.8" width="4.6" height="0.6" fill="#ffcdd2"/>
<rect x="191.33" y="387.2" width="4.6" height="4.6" fill="#26a69a"/>
<rect x="197.07" y="376.0" width="4.6" height="15.8" fill="#26a69a"/>
<rect x="202.80" y="369.0" width="4.6" height="22.8" fill="#26a69a"/>
<rect x="208.54" y="363.0" width="4.6" height="28.8" fill="#26a69a"/>
<rect x="214.28" y="371.2" width="4.6" height="20.6" fill="#b2dfdb"/>
<rect x="220.02" y="373.7" width="4.6" height="18.1" fill="#b2dfdb"/>
<rect x="225.76" y="378.3" width="4.6" height="13.5" fill="#b2dfdb"/>
<rect x="231.50" y="386.0" width="4.6" height="5.8" fill="#b2dfdb"/>
<rect x="237.23" y="391.6" width="4.6" height="0.6" fill="#b2dfdb"/>
<rect x="242.97" y="391.8" width="4.6" height="2.3" fill="#ff5252"/>
<rect x="248.71" y="391.8" width="4.6" height="5.7" fill="#ff5252"/>
<rect x="254.45" y="391.8" width="4.6" height="5.6" fill="#ffcdd2"/>
<rect x="260.19" y="391.8" width="4.6" height="7.2" fill="#ff5252"/>
<rect x="265.93" y="391.8" width="4.6" height="9.2" fill="#ff5252"/>
<rect x="271.67" y="391.8" width="4.6" height="11.4" fill="#ff5252"/>
<rect x="277.40" y="391.8" width="4.6" height="13.2" fill="#ff5252"/>
<rect x="283.14" y="391.8" width="4.6" height="13.9" fill="#ff5252"/>
<rect x="288.88" y="391.8" width="4.6" height="14.2" fill="#ff5252"/>
<rect x="294.62" y="391.8" width="4.6" height="13.5" fill="#ffcdd2"/>
<rect x="300.36" y="391.8" width="4.6" height="12.4" fill="#ffcdd2"/>
<rect x="306.10" y="391.8" width="4.6" height="12.3" fill="#ffcdd2"/>
<rect x="311.83" y="391.8" width="4.6" height="11.1" fill="#ffcdd2"/>
<rect x="317.57" y="391.8" width="4.6" height="9.0" fill="#ffcdd2"/>
<rect x="323.31" y="391.8" width="4.6" height="8.0" fill="#ffcdd2"/>
<rect x="329.05" y="391.8" width="4.6" height="7.5" fill="#ffcdd2"/>
<rect x="334.79" y="391.8" width="4.6" height="7.1" fill="#ffcdd2"/>
<rect x="340.53" y="391.8" width="4.6" height="8.3" fill="#ff5252"/>
<rect x="346.26" y="391.8" width="4.6" height="8.7" fill="#ff5252"/>
<rect x="352.00" y="391.8" width="4.6" height="8.2" fill="#ffcdd2"/>
<rect x="357.74" y="391.8" width="4.6" height="7.7" fill="#ffcdd2"/>
<rect x="363.48" y="391.8" width="4.6" height="7.2" fill="#ffcdd2"/>
<rect x="369.22" y="391.8" width="4.6" height="5.9" fill="#ffcdd2"/>
<rect x="374.96" y="391.8" width="4.6" height="4.6" fill="#ffcdd2"/>
<rect x="380.69" y="391.8" width="4.6" height="1.9" fill="#ffcdd2"/>
<rect x="386.43" y="391.8" width="4.6" height="0.6" fill="#ffcdd2"/>
<rect x="392.17" y="389.8" width="4.6" height="2.0" fill="#26a69a"/>
<rect x="397.91" y="389.2" width="4.6" height="2.6" fill="#26a69a"/>
<rect x="403.65" y="389.7" width="4.6" height="2.1" fill="#b2dfdb"/>
<rect x="409.39" y="389.7" width="4.6" height="2.1" fill="#b2dfdb"/>
<rect x="415.12" y="389.8" width="4.6" height="2.0" fill="#b2dfdb"/>
<rect x="420.86" y="390.2" width="4.6" height="1.6" fill="#b2dfdb"/>
<rect x="426.60" y="390.4" width="4.6" height="1.4" fill="#b2dfdb"/>
<rect x="432.34" y="390.9" width="4.6" height="0.9" fill="#b2dfdb"/>
<rect x="438.08" y="391.1" width="4.6" height="0.7" fill="#b2dfdb"/>
<rect x="443.82" y="390.7" width="4.6" height="1.1" fill="#26a69a"/>
<rect x="449.55" y="391.3" width="4.6" height="0.6" fill="#b2dfdb"/>
<rect x="455.29" y="391.4" width="4.6" height="0.6" fill="#b2dfdb"/>
<rect x="461.03" y="391.4" width="4.6" height="0.6" fill="#b2dfdb"/>
<rect x="466.77" y="391.2" width="4.6" height="0.6" fill="#26a69a"/>
<rect x="472.51" y="390.5" width="4.6" height="1.3" fill="#26a69a"/>
<rect x="478.25" y="388.5" width="4.6" height="3.3" fill="#26a69a"/>
<rect x="483.98" y="388.2" width="4.6" height="3.6" fill="#26a69a"/>
<rect x="489.72" y="386.7" width="4.6" height="5.1" fill="#26a69a"/>
<rect x="495.46" y="386.8" width="4.6" height="5.0" fill="#b2dfdb"/>
<rect x="501.20" y="385.9" width="4.6" height="5.9" fill="#26a69a"/>
<rect x="506.94" y="386.2" width="4.6" height="5.6" fill="#b2dfdb"/>
<rect x="512.68" y="387.2" width="4.6" height="4.6" fill="#b2dfdb"/>
<rect x="518.42" y="389.4" width="4.6" height="2.4" fill="#b2dfdb"/>
<rect x="524.15" y="391.1" width="4.6" height="0.7" fill="#b2dfdb"/>
<rect x="529.89" y="391.8" width="4.6" height="0.6" fill="#ff5252"/>
<rect x="535.63" y="391.8" width="4.6" height="1.3" fill="#ff5252"/>
<rect x="541.37" y="391.8" width="4.6" height="1.5" fill="#ff5252"/>
<rect x="547.11" y="391.8" width="4.6" height="1.5" fill="#ffcdd2"/>
<rect x="552.85" y="391.8" width="4.6" height="1.3" fill="#ffcdd2"/>
<rect x="558.58" y="391.8" width="4.6" height="1.4" fill="#ff5252"/>
<rect x="564.32" y="391.8" width="4.6" height="0.6" fill="#ffcdd2"/>
<rect x="570.06" y="391.7" width="4.6" height="0.6" fill="#26a69a"/>
<rect x="575.80" y="391.7" width="4.6" height="0.6" fill="#b2dfdb"/>
<rect x="581.54" y="391.8" width="4.6" height="0.6" fill="#ff5252"/>
<rect x="587.28" y="391.8" width="4.6" height="0.6" fill="#ff5252"/>
<rect x="593.01" y="391.8" width="4.6" height="0.6" fill="#ffcdd2"/>
<rect x="598.75" y="391.5" width="4.6" height="0.6" fill="#26a69a"/>
<rect x="604.49" y="391.0" width="4.6" height="0.8" fill="#26a69a"/>
<rect x="610.23" y="390.7" width="4.6" height="1.1" fill="#26a69a"/>
<rect x="615.97" y="390.9" width="4.6" height="0.9" fill="#b2dfdb"/>
<rect x="621.71" y="391.0" width="4.6" height="0.8" fill="#b2dfdb"/>
<rect x="627.44" y="391.0" width="4.6" height="0.8" fill="#26a69a"/>
<rect x="633.18" y="391.0" width="4.6" height="0.8" fill="#b2dfdb"/>
<rect x="638.92" y="391.6" width="4.6" height="0.6" fill="#b2dfdb"/>
<rect x="644.66" y="391.8" width="4.6" height="0.6" fill="#ff5252"/>
<rect x="650.40" y="391.8" width="4.6" height="0.6" fill="#ff5252"/>
<rect x="656.14" y="391.8" width="4.6" height="0.6" fill="#ff5252"/>
<rect x="661.87" y="391.8" width="4.6" height="0.6" fill="#ffcdd2"/>
<rect x="667.61" y="391.8" width="4.6" height="0.6" fill="#26a69a"/>
<rect x="673.35" y="391.0" width="4.6" height="0.8" fill="#26a69a"/>
<rect x="679.09" y="388.5" width="4.6" height="3.3" fill="#26a69a"/>
<rect x="684.83" y="388.6" width="4.6" height="3.2" fill="#b2dfdb"/>
<rect x="690.57" y="388.7" width="4.6" height="3.1" fill="#b2dfdb"/>
<rect x="696.30" y="389.4" width="4.6" height="2.4" fill="#b2dfdb"/>
<rect x="702.04" y="390.1" width="4.6" height="1.7" fill="#b2dfdb"/>
<rect x="707.78" y="391.3" width="4.6" height="0.6" fill="#b2dfdb"/>
<rect x="713.52" y="391.5" width="4.6" height="0.6" fill="#b2dfdb"/>
<rect x="719.26" y="391.8" width="4.6" height="0.6" fill="#ff5252"/>
<rect x="725.00" y="391.8" width="4.6" height="1.3" fill="#ff5252"/>
<rect x="730.73" y="391.8" width="4.6" height="1.4" fill="#ff5252"/>
<rect x="736.47" y="391.8" width="4.6" height="1.3" fill="#ffcdd2"/>
<rect x="742.21" y="391.8" width="4.6" height="1.2" fill="#ffcdd2"/>
<rect x="747.95" y="391.8" width="4.6" height="0.6" fill="#ffcdd2"/>
<rect x="753.69" y="391.8" width="4.6" height="0.6" fill="#ffcdd2"/>
<rect x="759.43" y="391.2" width="4.6" height="0.6" fill="#26a69a"/>
<rect x="765.17" y="391.8" width="4.6" height="0.6" fill="#ff5252"/>
<rect x="770.90" y="391.8" width="4.6" height="0.6" fill="#ff5252"/>
<rect x="776.64" y="391.8" width="4.6" height="0.6" fill="#ff5252"/>
<rect x="782.38" y="391.8" width="4.6" height="0.6" fill="#ffcdd2"/>
<rect x="788.12" y="391.8" width="4.6" height="0.6" fill="#ff5252"/>
<rect x="793.86" y="391.7" width="4.6" height="0.6" fill="#26a69a"/>
<rect x="799.60" y="390.8" width="4.6" height="1.0" fill="#26a69a"/>
<rect x="805.33" y="389.9" width="4.6" height="1.9" fill="#26a69a"/>
<rect x="811.07" y="389.7" width="4.6" height="2.1" fill="#26a69a"/>
<rect x="816.81" y="390.3" width="4.6" height="1.5" fill="#b2dfdb"/>
<rect x="822.55" y="390.7" width="4.6" height="1.1" fill="#b2dfdb"/>
<rect x="828.29" y="391.2" width="4.6" height="0.6" fill="#b2dfdb"/>
<rect x="834.03" y="391.4" width="4.6" height="0.6" fill="#b2dfdb"/>
<rect x="839.76" y="391.4" width="4.6" height="0.6" fill="#b2dfdb"/>
<rect x="845.50" y="391.8" width="4.6" height="0.6" fill="#b2dfdb"/>
<rect x="851.24" y="391.8" width="4.6" height="0.6" fill="#ff5252"/>
<rect x="856.98" y="391.6" width="4.6" height="0.6" fill="#26a69a"/>
<rect x="862.72" y="391.0" width="4.6" height="0.8" fill="#26a69a"/>
<rect x="868.46" y="391.0" width="4.6" height="0.8" fill="#26a69a"/>
<rect x="874.19" y="391.0" width="4.6" height="0.8" fill="#b2dfdb"/>
<rect x="879.93" y="391.2" width="4.6" height="0.6" fill="#b2dfdb"/>
<rect x="885.67" y="390.8" width="4.6" height="1.0" fill="#26a69a"/>
<rect x="891.41" y="390.5" width="4.6" height="1.3" fill="#26a69a"/>
<rect x="897.15" y="390.6" width="4.6" height="1.2" fill="#b2dfdb"/>
<rect x="902.89" y="390.3" width="4.6" height="1.5" fill="#26a69a"/>
<rect x="908.62" y="391.1" width="4.6" height="0.7" fill="#b2dfdb"/>
<rect x="914.36" y="391.2" width="4.6" height="0.6" fill="#b2dfdb"/>
<rect x="920.10" y="391.2" width="4.6" height="0.6" fill="#b2dfdb"/>
<rect x="925.84" y="391.2" width="4.6" height="0.6" fill="#b2dfdb"/>
<rect x="931.58" y="391.1" width="4.6" height="0.7" fill="#26a69a"/>
<rect x="937.32" y="391.0" width="4.6" height="0.8" fill="#26a69a"/>
<rect x="943.05" y="391.2" width="4.6" height="0.6" fill="#b2dfdb"/>
<rect x="948.79" y="390.8" width="4.6" height="1.0" fill="#26a69a"/>
<rect x="954.53" y="391.2" width="4.6" height="0.6" fill="#b2dfdb"/>
<rect x="960.27" y="391.5" width="4.6" height="0.6" fill="#b2dfdb"/>
<rect x="966.01" y="388.8" width="4.6" height="3.0" fill="#26a69a"/>
<rect x="971.75" y="388.7" width="4.6" height="3.1" fill="#26a69a"/>
<rect x="977.48" y="387.9" width="4.6" height="3.9" fill="#26a69a"/>
<rect x="983.22" y="387.7" width="4.6" height="4.1" fill="#26a69a"/>
<rect x="988.96" y="385.4" width="4.6" height="6.4" fill="#26a69a"/>
<rect x="994.70" y="382.7" width="4.6" height="9.1" fill="#26a69a"/>
<polyline points="8,393.6 10.0,393.6 15.7,393.7 21.5,393.7 27.2,393.3 33.0,392.6 38.7,391.6 44.4,390.6 50.2,389.4 55.9,388.2 61.6,386.8 67.4,385.2 73.1,383.7 78.9,382.1 84.6,380.7 90.3,378.8 96.1,377.0 101.8,375.7 107.6,374.8 113.3,374.5 119.0,375.0 124.8,375.6 130.5,376.8 136.2,378.1 142.0,379.7 147.7,381.5 153.5,383.5 159.2,385.4 164.9,387.0 170.7,388.1 176.4,388.6 182.2,388.8 187.9,388.9 193.6,387.8 199.4,383.8 205.1,378.1 210.8,370.9 216.6,365.8 222.3,361.2 228.1,357.9 233.8,356.4 239.5,356.3 245.3,356.9 251.0,358.3 256.8,359.7 262.5,361.5 268.2,363.8 274.0,366.7 279.7,370.0 285.4,373.5 291.2,377.0 296.9,380.4 302.7,383.5 308.4,386.6 314.1,389.3 319.9,391.6 325.6,393.6 331.3,395.5 337.1,397.2 342.8,399.3 348.6,401.5 354.3,403.5 360.0,405.5 365.8,407.2 371.5,408.7 377.3,409.9 383.0,410.3 388.7,410.4 394.5,409.9 400.2,409.2 405.9,408.7 411.7,408.2 417.4,407.7 423.2,407.3 428.9,406.9 434.6,406.7 440.4,406.5 446.1,406.3 451.9,406.1 457.6,406.0 463.3,405.9 469.1,405.8 474.8,405.4 480.5,404.6 486.3,403.7 492.0,402.4 497.8,401.2 503.5,399.7 509.2,398.3 515.0,397.2 520.7,396.6 526.5,396.4 532.2,396.5 537.9,396.9 543.7,397.2 549.4,397.6 555.1,397.9 560.9,398.3 566.6,398.4 572.4,398.4 578.1,398.4 583.8,398.5 589.6,398.6 595.3,398.7 601.1,398.7 606.8,398.5 612.5,398.2 618.3,398.0 624.0,397.7 629.7,397.5 635.5,397.3 641.2,397.3 647.0,397.3 652.7,397.4 658.4,397.6 664.2,397.6 669.9,397.6 675.7,397.4 681.4,396.6 687.1,395.8 692.9,395.0 698.6,394.4 704.3,394.0 710.1,393.9 715.8,393.8 721.6,393.9 727.3,394.3 733.0,394.6 738.8,395.0 744.5,395.2 750.2,395.4 756.0,395.5 761.7,395.3 767.5,395.3 773.2,395.4 778.9,395.5 784.7,395.6 790.4,395.7 796.2,395.7 801.9,395.4 807.6,395.0 813.4,394.4 819.1,394.1 824.8,393.8 830.6,393.6 836.3,393.5 842.1,393.5 847.8,393.4 853.5,393.5 859.3,393.5 865.0,393.2 870.8,393.0 876.5,392.8 882.2,392.7 888.0,392.4 893.7,392.1 899.4,391.8 905.2,391.4 910.9,391.2 916.7,391.1 922.4,390.9 928.1,390.8 933.9,390.6 939.6,390.4 945.4,390.2 951.1,390.0 956.8,389.9 962.6,389.8 968.3,389.0 974.0,388.3 979.8,387.3 985.5,386.3 991.3,384.7 997.0,382.4" fill="none" stroke="#ff934a" stroke-width="1.4" stroke-linejoin="round"/>
<polyline points="8,395.0 10.0,395.0 15.7,394.2 21.5,393.7 27.2,391.8 33.0,389.8 38.7,387.9 44.4,386.5 50.2,384.3 55.9,383.6 61.6,381.1 67.4,378.7 73.1,378.0 78.9,375.5 84.6,374.9 90.3,371.6 96.1,369.8 101.8,370.5 107.6,371.0 113.3,373.6 119.0,376.6 124.8,378.4 130.5,381.2 136.2,383.5 142.0,385.8 147.7,388.9 153.5,391.6 159.2,392.9 164.9,393.6 170.7,392.2 176.4,390.7 182.2,389.8 187.9,389.3 193.6,383.2 199.4,368.0 205.1,355.3 210.8,342.1 216.6,345.1 222.3,343.2 228.1,344.3 233.8,350.6 239.5,356.1 245.3,359.2 251.0,364.0 256.8,365.3 262.5,368.7 268.2,373.0 274.0,378.1 279.7,383.2 285.4,387.4 291.2,391.2 296.9,393.9 302.7,395.9 308.4,398.9 314.1,400.5 319.9,400.6 325.6,401.6 331.3,403.0 337.1,404.4 342.8,407.6 348.6,410.2 354.3,411.7 360.0,413.1 365.8,414.4 371.5,414.6 377.3,414.5 383.0,412.2 388.7,410.7 394.5,407.8 400.2,406.6 405.9,406.6 411.7,406.1 417.4,405.7 423.2,405.7 428.9,405.6 434.6,405.8 440.4,405.8 446.1,405.1 451.9,405.6 457.6,405.6 463.3,405.6 469.1,405.1 474.8,404.1 480.5,401.3 486.3,400.1 492.0,397.4 497.8,396.2 503.5,393.9 509.2,392.8 515.0,392.7 520.7,394.2 526.5,395.8 532.2,397.0 537.9,398.1 543.7,398.7 549.4,399.1 555.1,399.3 560.9,399.6 566.6,399.1 572.4,398.3 578.1,398.3 583.8,398.9 589.6,399.2 595.3,399.1 601.1,398.4 606.8,397.6 612.5,397.1 618.3,397.0 624.0,396.9 629.7,396.7 635.5,396.5 641.2,397.1 647.0,397.4 652.7,398.0 658.4,398.2 664.2,397.7 669.9,397.6 675.7,396.6 681.4,393.3 687.1,392.6 692.9,391.9 698.6,392.0 704.3,392.3 710.1,393.4 715.8,393.5 721.6,394.6 727.3,395.6 733.0,396.1 738.8,396.2 744.5,396.4 750.2,396.0 756.0,395.7 761.7,394.7 767.5,395.5 773.2,395.7 778.9,395.9 784.7,395.9 790.4,396.2 796.2,395.6 801.9,394.5 807.6,393.0 813.4,392.4 819.1,392.6 824.8,392.7 830.6,393.0 836.3,393.2 842.1,393.1 847.8,393.4 853.5,393.7 859.3,393.2 865.0,392.4 870.8,392.2 876.5,392.0 882.2,392.0 888.0,391.5 893.7,390.8 899.4,390.6 905.2,389.9 910.9,390.5 916.7,390.4 922.4,390.3 928.1,390.2 933.9,389.9 939.6,389.6 945.4,389.6 951.1,389.0 956.8,389.3 962.6,389.4 968.3,386.0 974.0,385.2 979.8,383.4 985.5,382.2 991.3,378.2 997.0,373.3" fill="none" stroke="#4f7cf7" stroke-width="1.35" stroke-linejoin="round"/>
<text x="15.3" y="350.3" font-size="10" fill="#b8b8b8" textLength="97.5" lengthAdjust="spacingAndGlyphs">MACD (12, 26, close)</text>
<text x="119.5" y="350.3" font-size="10" fill="#26a69a" font-weight="bold" textLength="17.8" lengthAdjust="spacingAndGlyphs">1.07</text>
<text x="143.8" y="350.3" font-size="10" fill="#2962ff" font-weight="bold" textLength="18.4" lengthAdjust="spacingAndGlyphs">2.14</text>
<text x="168.6" y="350.3" font-size="10" fill="#ff6d00" font-weight="bold" textLength="18.4" lengthAdjust="spacingAndGlyphs">1.07</text>
<line x1="1002" y1="391.5" x2="1060" y2="391.5" stroke="#bdbdbd" stroke-width="1" stroke-dasharray="3,4"/>
<text x="1069.2" y="395.8" class="ax">0.00</text>
<rect x="1024.2" y="347" width="70.7" height="13.6" rx="2" fill="#2962ff"/>
<rect x="1025.2" y="361.5" width="69.7" height="13" rx="2" fill="#ff6d00"/>
<rect x="1005.4" y="375.3" width="89.5" height="13.7" rx="2" fill="#26a69a"/>
<rect x="1060.7" y="347" width="0.8" height="42" fill="#ffffff" opacity="0.7"/>
<text x="1028" y="357.2" class="lb2" textLength="29" lengthAdjust="spacingAndGlyphs">MACD</text>
<text x="1069" y="357.2" class="lb2" textLength="20.8" lengthAdjust="spacingAndGlyphs">2.14</text>
<text x="1029" y="371.4" class="lb2" textLength="28" lengthAdjust="spacingAndGlyphs">Signal</text>
<text x="1069" y="371.4" class="lb2" textLength="20.8" lengthAdjust="spacingAndGlyphs">1.07</text>
<text x="1009.7" y="385.5" class="lb2" textLength="47.3" lengthAdjust="spacingAndGlyphs">Histogram</text>
<text x="1069" y="385.5" class="lb2" textLength="20.8" lengthAdjust="spacingAndGlyphs">1.07</text>
<!-- month labels -->
<text x="62" y="438.6" class="mo" text-anchor="middle">Mar</text>
<text x="182.3" y="438.6" class="mo" text-anchor="middle">Apr</text>
<text x="302.6" y="438.6" class="mo" text-anchor="middle">May</text>
<text x="429" y="438.6" class="mo" text-anchor="middle">Jun</text>
<text x="549" y="438.6" class="mo" text-anchor="middle">Jul</text>
<text x="681.2" y="438.6" class="mo" text-anchor="middle">Aug</text>
<text x="801.7" y="438.6" class="mo" text-anchor="middle">Sep</text>
<text x="927.7" y="438.6" class="mo" text-anchor="middle">Oct</text>
<clipPath id="nc"><rect x="1040" y="420" width="20.3" height="25"/></clipPath><text x="1050.4" y="438.6" class="mo" clip-path="url(#nc)">No</text>
<!-- TradingView logo -->
<path d="M10.1 464 H19.5 V476.4 H14.9 V468.4 H10.1 Z" fill="#131722"/>
<circle cx="24.1" cy="466.5" r="2.2" fill="#131722"/>
<path d="M28 464 H34 L29.8 476.4 H24.6 Z" fill="#131722"/>
<text x="41" y="476.6" font-size="17.4" font-weight="bold" fill="#131722" textLength="99" lengthAdjust="spacingAndGlyphs">TradingView</text>
<!-- weibo/wechat watermark -->
<g fill="none" stroke="#e8e8e8" stroke-width="1">
<rect x="948.8" y="454.5" width="16" height="16" rx="5"/>
<path d="M953 469 L951.5 472"/>
<path d="M958.5 458.5 C955 458.5 953.5 461 954 463.5 C954.5 466 957.5 467 959.5 465.5 M956.5 462 C958 460.5 961 461 961 463.5 C961 466 959 467.5 957 467.5"/>
</g>
<text x="973.8" y="468.6" font-size="19" fill="#444" stroke="#fff" stroke-width="0.55" textLength="70.7" lengthAdjust="spacingAndGlyphs">@VSTAR</text>
<g fill="none" stroke="#7a7a7a" stroke-width="1.05" stroke-linecap="square">
<!-- 维 -->
<path d="M1051.5 454.5 L1048.5 459 L1052 459.5 L1048 464.5 L1053 464"/>
<path d="M1048 468.5 L1053 467"/>
<path d="M1056 454.5 L1054.5 458.5 M1055.5 457 V469.5 M1059 455 L1059.5 457 M1055.5 457.5 H1062 M1056 461 H1061.5 M1056 464.5 H1061.5 M1056 468.5 H1062"/>
<!-- 信 -->
<path d="M1068.5 454.5 L1065.5 461 M1067.5 458.5 V469.5"/>
<path d="M1073 454.5 L1074 456 M1069.5 457 H1079 M1071 459.8 H1077.5 M1071 462.3 H1077.5 M1071 464.8 V469.5 H1078 V464.8 Z"/>
<!-- 证 -->
<path d="M1083 455 L1084.5 456.5 M1082.5 459.5 H1084.5 V467.5 L1083 469"/>
<path d="M1087 456 H1096.5 M1092 456 V468.5 M1092 462 H1096 M1088.5 460.5 V468.5 M1086.5 468.5 H1097"/>
<!-- 券 -->
<path d="M1102.5 454.5 L1103.5 456.5 M1110.5 454.5 L1109.5 456.5 M1100.5 457.5 H1112.5 M1101.5 460 H1111.5 M1099 462.5 H1114 M1106.5 457 C1106 462 1103 466 1099 468 M1106.5 461 C1108 464 1111 466.5 1114 467.5 M1103.5 466 H1110 C1110 469 1109 470 1107 469.5 M1105.5 466 L1103 470"/>
</g>
</svg>
</body></html>
